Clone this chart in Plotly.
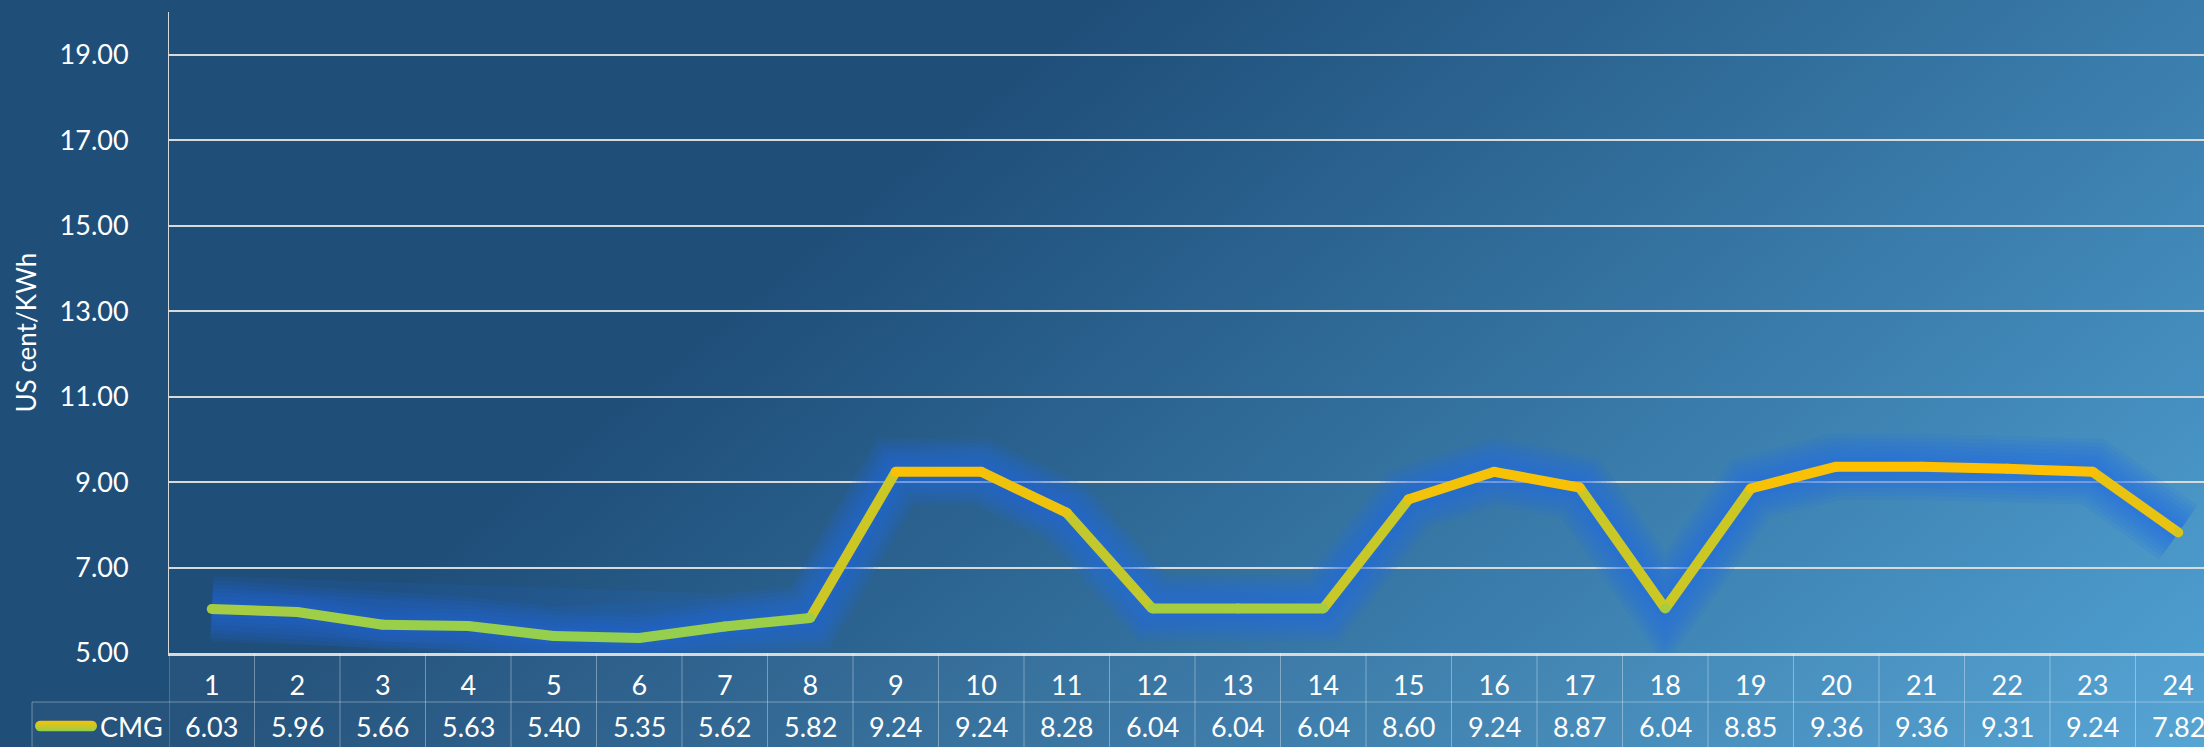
import base64
import plotly.graph_objects as go

# ---------------- data ----------------
hours = list(range(1, 25))
cmg = [6.03, 5.96, 5.66, 5.63, 5.40, 5.35, 5.62, 5.82, 9.24, 9.24, 8.28, 6.04,
       6.04, 6.04, 8.60, 9.24, 8.87, 6.04, 8.85, 9.36, 9.36, 9.31, 9.24, 7.82]
series_name = "CMG"
y_title = "US cent/KWh"

# ---------------- layout constants ----------------
W, H = 2204, 747
ML, MR, MT, MB = 169, 0, 12, 94
PW, PH = W - ML - MR, H - MT - MB
CELL = 85.5                     # px per category cell
FONT = "Lato"
FS = 27
GREEN = (146, 208, 80)
YELLOW = (255, 192, 0)

vmin, vmax = min(cmg), max(cmg)


def col(v):
    t = (v - vmin) / (vmax - vmin)
    c = [round(a + (b - a) * t) for a, b in zip(GREEN, YELLOW)]
    return f"rgb({c[0]},{c[1]},{c[2]})"


def svg_uri(svg):
    return "data:image/svg+xml;base64," + base64.b64encode(svg.encode()).decode()


bg_svg = (
    f'<svg xmlns="http://www.w3.org/2000/svg" width="{W}" height="{H}" '
    f'viewBox="0 0 {W} {H}" preserveAspectRatio="none"><defs>'
    '<linearGradient id="g" gradientUnits="userSpaceOnUse" x1="450" y1="542" x2="1270" y2="1528">'
    '<stop offset="0" stop-color="rgb(31,78,121)"/>'
    '<stop offset="1" stop-color="rgb(80,162,212)"/>'
    '</linearGradient></defs><rect width="100%" height="100%" fill="url(#g)"/></svg>'
)

key_svg = (
    '<svg xmlns="http://www.w3.org/2000/svg" width="64" height="12" viewBox="0 0 64 12">'
    '<defs><linearGradient id="k" x1="0" y1="0" x2="0" y2="1">'
    '<stop offset="0" stop-color="#FFC000"/><stop offset="1" stop-color="#92D050"/>'
    '</linearGradient></defs><rect x="0" y="0" width="64" height="12" rx="6" ry="6" fill="url(#k)"/></svg>'
)

fig = go.Figure()

# soft blue glow
for w in [66, 58, 50, 42, 34, 26, 18]:
    fig.add_trace(go.Scatter(x=hours, y=cmg, mode="lines",
                             line=dict(color="rgba(30,105,230,0.12)", width=w),
                             hoverinfo="skip", showlegend=False))

# coloured segments
for i in range(len(hours) - 1):
    fig.add_trace(go.Scatter(x=[hours[i], hours[i + 1]], y=[cmg[i], cmg[i + 1]],
                             mode="lines",
                             line=dict(color=col((cmg[i] + cmg[i + 1]) / 2), width=10),
                             hoverinfo="skip", showlegend=False))

# joints / round caps
fig.add_trace(go.Scatter(x=hours, y=cmg, mode="markers", name=series_name,
                         marker=dict(size=10, color=[col(v) for v in cmg], line=dict(width=0)),
                         showlegend=False))

x_lo = hours[0] - 0.5
x_hi = x_lo + PW / CELL

row1_bot = -(702 - (H - MB)) / PH
row2_bot = -MB / PH
row2_mid = -(726 - (H - MB)) / PH
legend_left = -(ML - 32) / PW
border = "rgba(255,255,255,0.35)"

shapes = []
# table cell tint
shapes.append(dict(type="rect", xref="paper", yref="paper", x0=0, x1=1, y0=row2_bot, y1=0,
                   fillcolor="rgba(255,255,255,0.035)", line=dict(width=0), layer="below"))
shapes.append(dict(type="rect", xref="paper", yref="paper", x0=legend_left, x1=0, y0=row2_bot,
                   y1=row1_bot, fillcolor="rgba(255,255,255,0.035)", line=dict(width=0), layer="below"))
# verticals between cells
for h in hours:
    shapes.append(dict(type="line", xref="x", yref="paper", x0=h - 0.5, x1=h - 0.5,
                       y0=0, y1=row2_bot, line=dict(color=border, width=1)))
shapes.append(dict(type="line", xref="paper", yref="paper", x0=legend_left, x1=legend_left,
                   y0=row1_bot, y1=row2_bot, line=dict(color=border, width=1)))
shapes.append(dict(type="line", xref="paper", yref="paper", x0=legend_left, x1=1,
                   y0=row1_bot, y1=row1_bot, line=dict(color=border, width=1)))

annotations = []
for h, v in zip(hours, cmg):
    annotations.append(dict(x=h, xref="x", y=row2_mid, yref="paper", text=f"{v:.2f}",
                            showarrow=False, font=dict(family=FONT, size=FS, color="white"),
                            xanchor="center", yanchor="middle"))
annotations.append(dict(x=-(ML - 98) / PW, xref="paper", y=row2_mid, yref="paper",
                        text=series_name, showarrow=False,
                        font=dict(family=FONT, size=FS, color="white"),
                        xanchor="left", yanchor="middle"))
annotations.append(dict(x=-(ML - 25) / PW, xref="paper", y=0.5, yref="paper",
                        text=y_title, textangle=-90, showarrow=False,
                        font=dict(family=FONT, size=FS - 1, color="white"),
                        xanchor="center", yanchor="middle"))

images = [
    dict(source=svg_uri(bg_svg), xref="paper", yref="paper", x=-ML / PW, y=1 + MT / PH,
         sizex=W / PW, sizey=H / PH, xanchor="left", yanchor="top", sizing="stretch",
         layer="below"),
    dict(source=svg_uri(key_svg), xref="paper", yref="paper", x=-(ML - 35) / PW,
         y=row2_mid, sizex=62 / PW, sizey=11 / PH, xanchor="left", yanchor="middle",
         sizing="stretch", layer="above"),
]

fig.update_layout(
    width=W, height=H,
    margin=dict(l=ML, r=MR, t=MT, b=MB, pad=0),
    paper_bgcolor="rgb(31,78,121)",
    plot_bgcolor="rgba(0,0,0,0)",
    font=dict(family=FONT, size=FS, color="white"),
    shapes=shapes, annotations=annotations, images=images,
    showlegend=False,
    xaxis=dict(range=[x_lo, x_hi], tickvals=hours, ticktext=[str(h) for h in hours],
               showgrid=False, zeroline=False, showline=True, linecolor="#D9D9D9",
               linewidth=2.5, ticks="", ticklabelstandoff=7,
               tickfont=dict(family=FONT, size=FS, color="white"), fixedrange=True),
    yaxis=dict(range=[5, 20], tick0=5, dtick=2, tickformat=".2f",
               showgrid=True, gridcolor="#D9D9D9", gridwidth=1.7, zeroline=False,
               showline=True, linecolor="#D9D9D9", linewidth=1, ticks="",
               ticklabelstandoff=34, tickfont=dict(family=FONT, size=FS, color="white"),
               fixedrange=True),
)

fig.write_html("out.html", config={"displayModeBar": False},
               post_script="document.body.style.margin='0';")
